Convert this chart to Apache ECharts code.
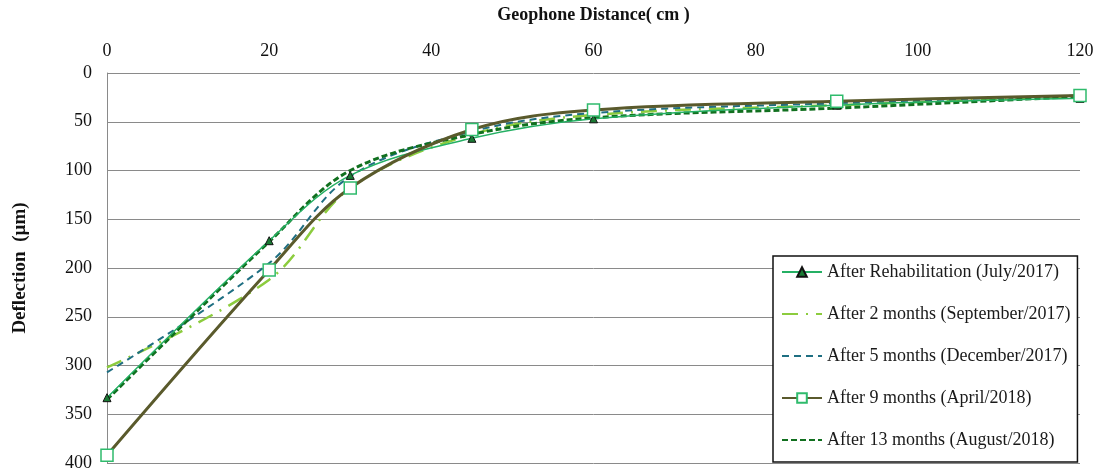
<!DOCTYPE html>
<html>
<head>
<meta charset="utf-8">
<script src="https://cdn.jsdelivr.net/npm/echarts@6/dist/echarts.min.js"></script>
<style>
  html, body { margin: 0; padding: 0; background: #fff; }
  #chart { width: 1099px; height: 470px; }
</style>
</head>
<body>
<div id="chart"></div>
<script>
// Geophone distances (cm) where deflections were measured
const distances = [0, 20, 30, 45, 60, 90, 120];

// Deflection readings (µm) for each survey
const afterRehab = [333, 172, 105, 67, 47, 33, 26];
const after2Months = [302, 212, 118, 63, 43, 33, 24];
const after5Months = [307, 195, 106, 60, 41, 31, 23];
const after9Months = [392, 202, 118, 58, 38, 29, 23];
const after13Months = [335, 173, 100, 63, 46, 36, 24];

const seriesNames = [
  'After Rehabilitation (July/2017)',
  'After 2 months (September/2017)',
  'After 5 months (December/2017)',
  'After 9 months (April/2018)',
  'After 13 months (August/2018)'
];

const pairs = vals => distances.map((d, i) => [d, vals[i]]);
const serif = '"Liberation Serif", "DejaVu Serif", serif';
// Lines without markers keep an invisible symbol so the legend shows only the stroke
const noMarker = { color: 'rgba(0,0,0,0)', borderWidth: 0 };

const chart = echarts.init(document.getElementById('chart'));
chart.setOption({
  animation: false,
  backgroundColor: '#fff',
  grid: { left: 107, right: 19, top: 73, bottom: 7, containLabel: false, outerBoundsMode: 'none' },
  xAxis: {
    type: 'value', position: 'top', min: 0, max: 120, interval: 20,
    name: 'Geophone Distance( cm )', nameLocation: 'middle', nameGap: 49,
    nameTextStyle: { fontFamily: serif, fontWeight: 'bold', fontSize: 18, color: '#111' },
    axisLine: { show: false }, axisTick: { show: false },
    splitLine: { show: false },
    axisLabel: { fontFamily: serif, fontSize: 18, color: '#111', margin: 13 }
  },
  yAxis: {
    type: 'value', inverse: true, min: 0, max: 400, interval: 50,
    name: 'Deflection  (µm)', nameLocation: 'middle', nameGap: 77, nameRotate: 90,
    nameTextStyle: { fontFamily: serif, fontWeight: 'bold', fontSize: 19, color: '#111' },
    axisLine: { show: true, lineStyle: { color: '#8a8a8a', width: 1 } },
    axisTick: { show: false },
    splitLine: { show: true, lineStyle: { color: '#8a8a8a', width: 1 } },
    axisLabel: { fontFamily: serif, fontSize: 18, color: '#111', margin: 15 }
  },
  legend: {
    orient: 'vertical', left: 773, top: 256,
    padding: [7, 7, 13, 8], itemGap: 24, itemWidth: 40, itemHeight: 12,
    borderColor: '#111', borderWidth: 1.5, backgroundColor: '#fff',
    textStyle: { fontFamily: serif, fontSize: 18, color: '#1a1a1a' },
    data: seriesNames
  },
  series: [
    {
      name: seriesNames[0], type: 'line', smooth: 0.35, data: pairs(afterRehab),
      symbol: 'triangle', symbolSize: 8,
      itemStyle: { color: '#1b7a34', borderColor: '#111', borderWidth: 1 },
      lineStyle: { color: '#25b064', width: 1.5 }, z: 5
    },
    {
      name: seriesNames[1], type: 'line', smooth: 0.35, data: pairs(after2Months),
      symbol: 'none', itemStyle: noMarker,
      lineStyle: { color: '#8ccc3e', width: 2.5, type: [16, 8, 2, 8] }, z: 3
    },
    {
      name: seriesNames[2], type: 'line', smooth: 0.35, data: pairs(after5Months),
      symbol: 'none', itemStyle: noMarker,
      lineStyle: { color: '#1f6f82', width: 2, type: [7, 5] }, z: 4
    },
    {
      name: seriesNames[3], type: 'line', smooth: 0.35, data: pairs(after9Months),
      symbol: 'rect', symbolSize: 12,
      itemStyle: { color: '#fff', borderColor: '#2fbb6c', borderWidth: 1.5 },
      lineStyle: { color: '#5a5a2c', width: 3 }, z: 6
    },
    {
      name: seriesNames[4], type: 'line', smooth: 0.35, data: pairs(after13Months),
      symbol: 'none', itemStyle: noMarker,
      lineStyle: { color: '#11701f', width: 3, type: [6, 3] }, z: 4
    }
  ]
});
</script>
</body>
</html>
